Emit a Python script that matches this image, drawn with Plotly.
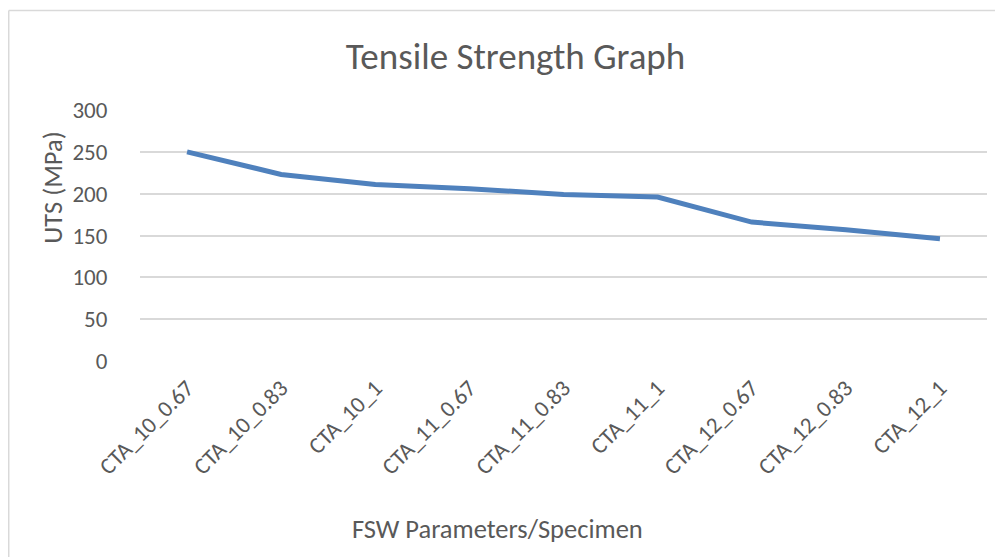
import plotly.graph_objects as go

specimens = [
    'CTA_10_0.67', 'CTA_10_0.83', 'CTA_10_1',
    'CTA_11_0.67', 'CTA_11_0.83', 'CTA_11_1',
    'CTA_12_0.67', 'CTA_12_0.83', 'CTA_12_1',
]
uts_mpa = [250, 223, 211, 206, 199, 196, 166, 157, 146]
y_ticks = [0, 50, 100, 150, 200, 250, 300]

FONT = 'Carlito, Calibri, Lato, sans-serif'
GREY = '#595959'

fig = go.Figure(go.Scatter(
    x=specimens,
    y=uts_mpa,
    mode='lines',
    line=dict(color='#4F81BD', width=5),
    hovertemplate='%{x}<br>UTS: %{y} MPa<extra></extra>',
))

# page body adds 8px around the figure, so the figure is 8px smaller
fig.update_layout(
    width=995,
    height=549,
    margin=dict(l=132, r=16, t=102, b=196),
    paper_bgcolor='white',
    plot_bgcolor='white',
    showlegend=False,
    font=dict(family=FONT, color=GREY, size=23),
    title=dict(
        text='Tensile Strength Graph',
        x=0.51, xanchor='center',
        y=0.912, yanchor='middle',
        font=dict(size=37, color=GREY),
    ),
    xaxis=dict(
        range=[-0.5, len(specimens) - 0.5],
        tickangle=-45,
        showgrid=False,
        showline=False,
        ticks='',
        ticklabelstandoff=8,
        tickfont=dict(size=23),
    ),
    yaxis=dict(
        range=[0, 300],
        tickvals=y_ticks,
        showgrid=True,
        gridcolor='#D9D9D9',
        gridwidth=1.5,
        zeroline=False,
        ticks='outside',
        ticklen=27,
        tickcolor='rgba(0,0,0,0)',
        tickfont=dict(size=23),
    ),
)

# axis titles placed where the spreadsheet put them
fig.add_annotation(text='UTS (MPa)', xref='paper', yref='paper',
                   x=-0.103, y=0.693, textangle=-90, showarrow=False,
                   xanchor='center', yanchor='middle',
                   font=dict(size=26.5, color=GREY))
fig.add_annotation(text='FSW Parameters/Specimen', xref='paper', yref='paper',
                   x=0.422, y=-0.67, showarrow=False,
                   xanchor='center', yanchor='middle',
                   font=dict(size=26.5, color=GREY))

# outer chart frame (top and left edges visible)
fig.add_shape(type='line', xref='paper', yref='paper',
              x0=-0.155, x1=1.1, y0=1.3964, y1=1.3964,
              line=dict(color='#D9D9D9', width=1.5))
fig.add_shape(type='line', xref='paper', yref='paper',
              x0=-0.155, x1=-0.155, y0=1.3964, y1=-0.9,
              line=dict(color='#D9D9D9', width=1.5))

fig.write_html('out.html')
